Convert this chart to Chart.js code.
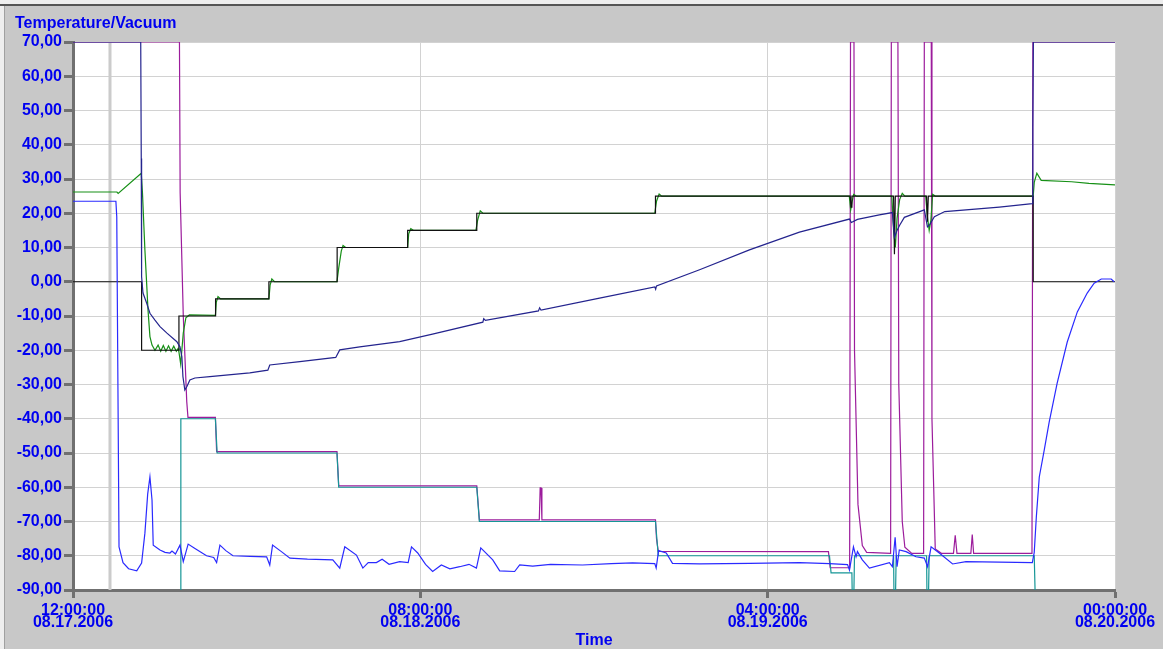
<!DOCTYPE html>
<html><head><meta charset="utf-8">
<script src="https://cdn.jsdelivr.net/npm/chart.js@4.4.0/dist/chart.umd.min.js"></script>
<style>html,body{margin:0;padding:0;background:#c8c8c8;overflow:hidden}#wrap{width:1163px;height:649px}</style>
</head><body><div id="wrap"><canvas id="c" width="1163" height="649"></canvas></div>
<script>
// time axis: hours after 12:00:00 08.17.2006
const xTickTimes = ['12:00:00', '08:00:00', '04:00:00', '00:00:00'];
const xTickDates = ['08.17.2006', '08.18.2006', '08.19.2006', '08.20.2006'];
const markerTime = [2.13];

// shelf temperature setpoint (black)
const setTime = [0,3.95,3.95,6.1,6.1,8.21,8.21,11.28,11.28,15.21,15.21,19.27,19.27,23.25,23.25,33.54,33.54,44.75,44.8,44.85,47.25,47.3,47.35,49.15,49.2,49.25,55.28,55.29,60];
const setTemp = [0,0,-20,-20,-10,-10,-5,-5,0,0,10,10,15,15,20,20,25,25,21.8,25,25,8,25,25,17.5,25,25,0,0];

// shelf temperature actual (green)
const shelfTime = [0,2.53,2.6,3.93,4.0,4.14,4.24,4.32,4.43,4.55,4.72,4.9,5.05,5.2,5.35,5.5,5.65,5.8,5.95,6.05,6.1,6.2,6.35,6.5,6.7,8.2,8.25,8.35,8.5,11.28,11.35,11.45,11.6,15.2,15.3,15.45,15.55,15.7,19.27,19.33,19.45,19.6,23.2,23.3,23.45,23.6,33.5,33.6,33.75,33.9,44.7,44.78,44.85,44.95,45.1,47.15,47.25,47.35,47.45,47.6,47.75,47.9,49.1,49.2,49.3,49.4,49.5,49.65,55.29,55.35,55.5,55.75,57.5,58.5,60];
const shelfTemp = [26.2,26.2,25.8,31.7,26,9.3,-0.4,-8.3,-16,-18.5,-20,-18.5,-20.3,-18.6,-20.3,-18.7,-20.3,-18.8,-20.3,-19.5,-20.5,-24,-15,-10.5,-9.7,-9.8,-6,-4.3,-5,-5,-1,0.8,0,0,4,9,10.6,10,10,14,15.5,15,15,18,20.7,20,20,23.5,25.6,25,25,21,23,25.5,25,25,15,10,18.5,24,25.8,25,25,19,15,18,25.5,25,25,29,31.7,29.6,29.2,28.7,28.3];

// product temperature (navy)
const prodTime = [0,3.9,3.93,3.95,4.03,4.24,4.43,4.72,5.01,5.41,5.98,6.16,6.27,6.33,6.44,6.56,6.73,7.02,7.88,10.18,11.22,11.33,13.06,15.13,15.36,16.51,18.81,20.7,23.6,23.65,23.75,26.8,26.87,26.95,30.32,33.5,33.55,33.6,36.08,38.95,41.83,44.71,44.82,45.17,46.43,47.18,47.3,47.45,47.6,47.87,49.02,49.2,49.31,49.6,50.2,53.34,55.24,55.27,55.3,60];
const prodTemp = [70,70,36,1.5,-3.3,-6.2,-9.2,-11.2,-13.1,-15,-17.5,-19,-21.9,-27.7,-31.6,-30.6,-28.7,-28.1,-27.7,-26.6,-25.8,-24.3,-23.3,-22.1,-19.9,-19,-17.5,-15.3,-11.8,-10.8,-11.3,-8.5,-7.6,-8.3,-4.8,-1.5,-2.2,-1.2,3.5,9.3,14.5,18.3,17.3,18.2,19.5,20.2,13,15,16.5,18.8,21,16,16.5,19,20.5,21.8,22.8,45,70,70];

// vacuum actual (purple)
const vacTime = [0,6.13,6.17,6.35,6.55,6.62,8.2,8.27,15.2,15.3,23.25,23.4,26.85,26.9,26.95,27.0,33.54,33.6,33.7,43.5,43.6,44.72,44.77,44.97,45.0,45.2,45.45,45.7,47.08,47.12,47.5,47.55,47.75,47.9,48.3,48.98,49.02,49.42,49.46,49.65,50.0,50.7,50.8,50.9,51.7,51.78,51.86,55.22,55.27,60];
const vacValue = [70,70,26,-10,-35,-39.6,-39.6,-49.6,-49.6,-59.6,-59.6,-69.5,-69.5,-60.2,-60.2,-69.5,-69.5,-75,-78.7,-78.8,-83.5,-83.5,70,70,-20,-65,-77,-79,-79.3,70,70,-30,-70,-77.5,-79.3,-79.3,70,70,-40,-78,-79.3,-79.3,-74,-79.3,-79.3,-73.8,-79.3,-79.3,70,70];

// vacuum setpoint (teal)
const vacSetTime = [0,6.2,6.21,8.2,8.3,15.2,15.3,23.25,23.4,33.54,33.7,43.56,43.65,44.85,44.88,44.95,45.0,47.25,47.28,47.35,47.4,49.15,49.18,49.25,49.3,55.35,55.42,60];
const vacSetValue = [-95,-95,-40,-40,-50,-50,-60,-60,-70,-70,-80,-80,-85,-85,-95,-95,-80,-80,-95,-95,-80,-80,-95,-95,-80,-80,-95,-95];

// condenser temperature (blue)
const condTime = [0,2.47,2.52,2.6,2.65,2.88,3.2,3.67,3.95,4.14,4.3,4.43,4.55,4.62,5.01,5.3,5.58,5.7,5.9,6.16,6.35,6.63,7.0,7.69,8.1,8.27,8.46,8.8,9.21,10.2,11.15,11.33,11.49,12.0,12.49,13.5,14.96,15.36,15.65,16.32,16.69,17.0,17.47,17.8,18.2,18.81,19.3,19.49,19.85,20.3,20.71,21.21,21.7,22.27,22.8,23.23,23.48,24.17,24.57,25.43,25.72,26.47,27.5,29.34,31,32.22,33.5,33.58,33.72,34.16,34.52,36.08,38.96,41.83,43.56,44.6,44.71,44.94,45.09,45.17,45.45,45.86,47.01,47.18,47.34,47.45,47.58,47.97,48.54,49.02,49.21,49.41,49.88,50.65,51.42,55.24,55.35,55.47,55.64,55.93,56.21,56.67,57.25,57.83,58.4,58.8,59.21,59.78,59.95];
const condTemp = [23.5,23.5,19,-40,-77.4,-82,-83.8,-84.4,-82.1,-73.4,-62,-57,-63.7,-76.9,-78.3,-79,-79.2,-78.6,-79.5,-76.9,-81.7,-76.6,-77.8,-80,-80.5,-82,-76.9,-78.5,-80,-80.2,-80.3,-82.7,-76.9,-78.8,-80.7,-81,-81.2,-83.6,-77.4,-79.8,-83.6,-82,-82,-81,-82.5,-81.7,-82,-77.4,-79.2,-82.5,-84.6,-82.7,-83.8,-83.2,-82.5,-83.6,-77.7,-81.2,-84.4,-84.6,-82.7,-83,-82.5,-82.7,-82.3,-82.1,-82.3,-83.6,-78.5,-79.2,-82.2,-82.4,-82.2,-82.0,-82.3,-82.6,-84.2,-77.4,-80.3,-78.8,-81.2,-83.6,-82,-83.2,-74.6,-83.2,-78.3,-78.8,-80.3,-80.7,-83.2,-77.4,-79.2,-82.4,-81.7,-82,-79,-68.7,-57,-49,-41,-29.6,-17.6,-8.8,-3.3,-0.4,0.8,0.8,0];

const pts = (t, v) => t.map((x, i) => ({x, y: v[i]}));
const BLUE_TXT = '#0000f0';
const FONT = '"Liberation Sans", Arial, sans-serif';

const frame = {
  id: 'frame',
  beforeDraw(chart) {
    const ctx = chart.ctx, a = chart.chartArea;
    ctx.save();
    ctx.fillStyle = '#c8c8c8';
    ctx.fillRect(0, 0, chart.width, chart.height);
    ctx.fillStyle = '#eeeeee';
    ctx.fillRect(0, 0, chart.width, 4);
    ctx.fillStyle = '#555555';
    ctx.fillRect(0, 4, chart.width, 2);
    ctx.fillStyle = '#eeeeee';
    ctx.fillRect(0, 6, 4, chart.height);
    ctx.fillStyle = '#a0a0a0';
    ctx.fillRect(4, 6, 1, chart.height);
    ctx.fillStyle = '#ffffff';
    ctx.fillRect(a.left, a.top, a.right - a.left, a.bottom - a.top);
    ctx.fillStyle = BLUE_TXT;
    ctx.font = 'bold 16px ' + FONT;
    ctx.textBaseline = 'middle';
    ctx.textAlign = 'left';
    ctx.fillText('Temperature/Vacuum', 15, 24);
    ctx.restore();
  }
};

const ds = (label, t, v, color, order, width) => ({
  label, data: pts(t, v), borderColor: color, backgroundColor: color,
  borderWidth: width || 1.2, pointRadius: 0, tension: 0, fill: false, order
});

new Chart(document.getElementById('c'), {
  type: 'line',
  data: {
    datasets: [
      ds('Marker', [markerTime[0], markerTime[0]], [-90, 70], '#cbcbcb', 10, 3),
      ds('Vacuum', vacTime, vacValue, '#9c1c9c', 6),
      ds('Vacuum setpoint', vacSetTime, vacSetValue, '#169696', 5),
      ds('Shelf temperature', shelfTime, shelfTemp, '#169016', 4),
      ds('Shelf setpoint', setTime, setTemp, '#111111', 3),
      ds('Product temperature', prodTime, prodTemp, '#24248e', 2),
      ds('Condenser temperature', condTime, condTemp, '#2a2aff', 1)
    ]
  },
  options: {
    responsive: false,
    devicePixelRatio: 1,
    animation: false,
    layout: { padding: { top: 42, right: 48, left: 0, bottom: 0 } },
    plugins: { legend: { display: false }, tooltip: { enabled: false }, title: { display: false } },
    scales: {
      x: {
        type: 'linear', min: 0, max: 60,
        afterFit: s => { s.height = 59; },
        afterBuildTicks: s => { s.ticks = [0, 20, 40, 60].map(v => ({value: v})); },
        ticks: {
          color: BLUE_TXT, padding: 6, maxRotation: 0, autoSkip: false,
          font: { family: FONT, size: 16, weight: 'bold', lineHeight: 0.78 },
          callback: (v) => { const i = Math.round(v / 20); return [xTickTimes[i], xTickDates[i]]; }
        },
        grid: { color: '#d2d2d2', lineWidth: 1, tickColor: '#707070', tickWidth: 3, tickLength: 8 },
        border: { color: '#707070', width: 3 },
        title: { display: true, text: 'Time', color: BLUE_TXT, font: { family: FONT, size: 16, weight: 'bold' }, padding: { top: 0, bottom: -1 } }
      },
      y: {
        type: 'linear', min: -90, max: 70,
        afterFit: s => { s.width = 73; },
        ticks: {
          color: BLUE_TXT, padding: 2, stepSize: 10,
          font: { family: FONT, size: 16, weight: 'bold' },
          callback: v => v.toFixed(2).replace('.', ',')
        },
        grid: { color: '#d2d2d2', lineWidth: 1, tickColor: '#707070', tickWidth: 3, tickLength: 9 },
        border: { color: '#707070', width: 3 }
      }
    }
  },
  plugins: [frame]
});
</script></body></html>
